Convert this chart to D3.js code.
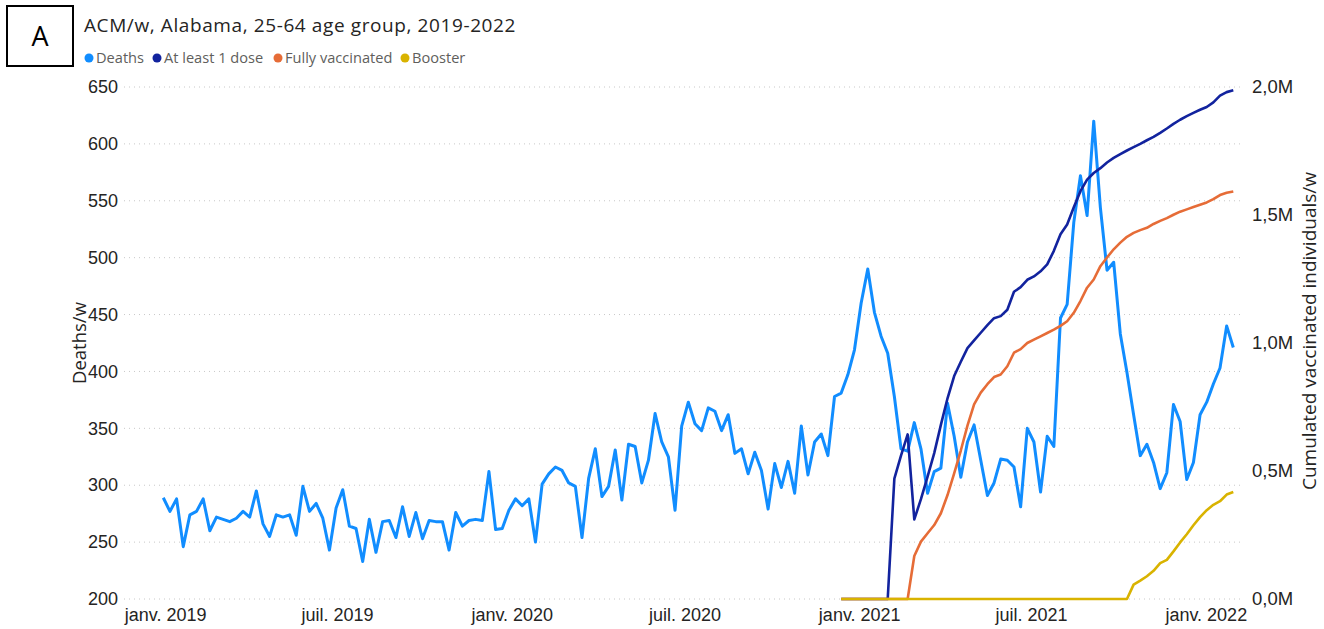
<!DOCTYPE html>
<html>
<head>
<meta charset="utf-8">
<script src="https://cdn.jsdelivr.net/npm/d3@7"></script>
<style>
  body { margin: 0; background: #fff; }
  svg { display: block; font-family: "Open Sans", "Noto Sans", sans-serif; }
  .grid line { stroke: #c8c8c8; stroke-dasharray: 1 4; }
  .axis text { fill: #252423; }
</style>
</head>
<body>
<svg id="chart" width="1324" height="629"></svg>
<script>
// weekly deaths, 25-64, Alabama (first week 2018-12-30)
const firstWeek = new Date(2018, 11, 30);
const deaths = [
  289, 277, 288, 246, 274, 277, 288, 260, 272, 270, 268, 271, 277, 272, 295, 266, 255, 274, 272, 274,
  256, 299, 277, 284, 271, 243, 280, 296, 264, 262, 233, 270, 241, 268, 269, 254, 281, 255, 276, 253,
  269, 268, 268, 243, 276, 264, 269, 270, 269, 312, 261, 262, 278, 288, 282, 288, 250, 301, 310, 316,
  313, 302, 299, 254, 306, 332, 290, 299, 331, 287, 336, 334, 302, 322, 363, 338, 325, 278, 352, 373,
  354, 348, 368, 365, 348, 362, 328, 332, 310, 329, 313, 279, 319, 298, 321, 293, 352, 309, 338, 345,
  326, 378, 381, 397, 419, 460, 490, 452, 431, 416, 378, 332, 330, 355, 332, 293, 312, 315, 372, 343,
  307, 338, 353, 322, 291, 302, 323, 322, 316, 281, 350, 338, 294, 343, 334, 447, 459, 531, 572, 537,
  620, 544, 489, 496, 433, 399, 362, 326, 336, 320, 297, 311, 371, 356, 305, 320, 362, 373, 389, 403,
  440, 421
];

// vaccination series (millions), starting at week index 102
const vaccStart = 102;
const atLeastOneDose = [
  0, 0, 0, 0, 0, 0, 0, 0, 0.47, 0.56, 0.643, 0.311, 0.39, 0.478, 0.57, 0.68, 0.784, 0.871, 0.927,
  0.98, 1.01, 1.04, 1.07, 1.097, 1.105, 1.13, 1.2, 1.218, 1.247, 1.26, 1.28, 1.307, 1.36, 1.425, 1.463,
  1.53, 1.593, 1.638, 1.664, 1.683, 1.705, 1.723, 1.738, 1.752, 1.765, 1.778, 1.792, 1.805, 1.821, 1.838,
  1.856, 1.872, 1.886, 1.899, 1.911, 1.922, 1.94, 1.966, 1.98, 1.987
];
const fullyVaccinated = [
  0, 0, 0, 0, 0, 0, 0, 0, 0, 0, 0, 0.168, 0.224, 0.257, 0.289, 0.335, 0.406, 0.491, 0.58, 0.677,
  0.76, 0.806, 0.839, 0.867, 0.877, 0.909, 0.962, 0.976, 1.0, 1.013, 1.026, 1.039, 1.052, 1.067, 1.085,
  1.118, 1.164, 1.216, 1.248, 1.3, 1.334, 1.366, 1.392, 1.415, 1.43, 1.441, 1.45, 1.465, 1.477, 1.488,
  1.501, 1.513, 1.522, 1.531, 1.54, 1.549, 1.562, 1.578, 1.587, 1.592
];
const booster = [
  0, 0, 0, 0, 0, 0, 0, 0, 0, 0, 0, 0, 0, 0, 0, 0, 0, 0, 0, 0,
  0, 0, 0, 0, 0, 0, 0, 0, 0, 0, 0, 0, 0, 0, 0, 0, 0, 0, 0, 0,
  0, 0, 0, 0, 0.056, 0.072, 0.089, 0.11, 0.14, 0.153, 0.186, 0.221, 0.253, 0.288, 0.32, 0.347,
  0.368, 0.382, 0.408, 0.418
];

const leftTicks = [200, 250, 300, 350, 400, 450, 500, 550, 600, 650];
const rightTicks = [0, 0.5, 1.0, 1.5, 2.0];
const xTickDates = [
  new Date(2019, 0, 1), new Date(2019, 6, 1), new Date(2020, 0, 1), new Date(2020, 6, 1),
  new Date(2021, 0, 1), new Date(2021, 6, 1), new Date(2022, 0, 1)
];
const series = [
  { name: 'Deaths', color: '#118DFF' },
  { name: 'At least 1 dose', color: '#12239E' },
  { name: 'Fully vaccinated', color: '#E66C37' },
  { name: 'Booster', color: '#D9B300' }
];

const weekDate = i => d3.timeDay.offset(firstWeek, 7 * i);

const svg = d3.select('#chart');
const plotLeft = 124, plotRight = 1242, plotTop = 87, plotBottom = 599;

const x = d3.scaleTime()
  .domain([weekDate(0), weekDate(deaths.length - 1)])
  .range([163.3, 1233.3]);
const yLeft = d3.scaleLinear().domain([200, 650]).range([plotBottom, plotTop]);
const yRight = d3.scaleLinear().domain([0, 2.0]).range([plotBottom, plotTop]);

// gridlines
svg.append('g')
  .attr('class', 'grid')
  .selectAll('line')
  .data(leftTicks)
  .join('line')
  .attr('x1', plotLeft)
  .attr('x2', plotRight)
  .attr('y1', d => yLeft(d))
  .attr('y2', d => yLeft(d));

// axes
const frMonth = d => (d.getMonth() === 0 ? 'janv. ' : 'juil. ') + d.getFullYear();

svg.append('g')
  .attr('class', 'axis')
  .attr('transform', `translate(${plotLeft},0)`)
  .call(d3.axisLeft(yLeft).tickValues(leftTicks).tickSize(0).tickPadding(6))
  .call(g => g.select('.domain').remove())
  .call(g => g.selectAll('text').attr('font-size', 18));

svg.append('g')
  .attr('class', 'axis')
  .attr('transform', `translate(${plotRight},0)`)
  .call(d3.axisRight(yRight).tickValues(rightTicks).tickSize(0).tickPadding(10)
    .tickFormat(d => d3.format('.1f')(d).replace('.', ',') + 'M'))
  .call(g => g.select('.domain').remove())
  .call(g => g.selectAll('text').attr('font-size', 18.5));

svg.append('g')
  .attr('class', 'axis')
  .attr('transform', `translate(0,${plotBottom})`)
  .call(d3.axisBottom(x).tickValues(xTickDates).tickSize(0).tickPadding(9).tickFormat(frMonth))
  .call(g => g.select('.domain').remove())
  .call(g => g.selectAll('text').attr('font-size', 18));

// axis titles
svg.append('text')
  .attr('transform', 'translate(86,343) rotate(-90)')
  .attr('text-anchor', 'middle')
  .attr('font-size', 18.5)
  .attr('fill', '#252423')
  .text('Deaths/w');

svg.append('text')
  .attr('transform', 'translate(1316,331) rotate(-90)')
  .attr('text-anchor', 'middle')
  .attr('font-size', 19)
  .attr('fill', '#252423')
  .text('Cumulated vaccinated individuals/w');

// lines
const deathLine = d3.line()
  .x((d, i) => x(weekDate(i)))
  .y(d => yLeft(d));

const vaccLine = d3.line()
  .x((d, i) => x(weekDate(vaccStart + i)))
  .y(d => yRight(d));

svg.append('path')
  .attr('d', deathLine(deaths))
  .attr('fill', 'none')
  .attr('stroke', series[0].color)
  .attr('stroke-width', 3)
  .attr('stroke-linejoin', 'round');

[atLeastOneDose, fullyVaccinated, booster].forEach((vals, k) => {
  svg.append('path')
    .attr('d', vaccLine(vals))
    .attr('fill', 'none')
    .attr('stroke', series[k + 1].color)
    .attr('stroke-width', 2.6)
    .attr('stroke-linejoin', 'round');
});

// panel letter box
svg.append('rect')
  .attr('x', 7).attr('y', 6)
  .attr('width', 66).attr('height', 60)
  .attr('fill', '#fff')
  .attr('stroke', '#000')
  .attr('stroke-width', 2);
svg.append('text')
  .attr('x', 40).attr('y', 46)
  .attr('text-anchor', 'middle')
  .attr('font-size', 27)
  .attr('fill', '#000')
  .text('A');

// title
svg.append('text')
  .attr('x', 84).attr('y', 32)
  .attr('font-size', 19)
  .attr('letter-spacing', 0.6)
  .attr('fill', '#252423')
  .text('ACM/w, Alabama, 25-64 age group, 2019-2022');

// legend
const legendX = [89, 157, 278, 405];
const legend = svg.append('g')
  .selectAll('g')
  .data(series)
  .join('g')
  .attr('transform', (d, i) => `translate(${legendX[i]},58)`);
legend.append('circle')
  .attr('r', 4.5)
  .attr('fill', d => d.color);
legend.append('text')
  .attr('x', 7)
  .attr('dy', '0.35em')
  .attr('font-size', 14.6)
  .attr('fill', '#605E5C')
  .text(d => d.name);
</script>
</body>
</html>
